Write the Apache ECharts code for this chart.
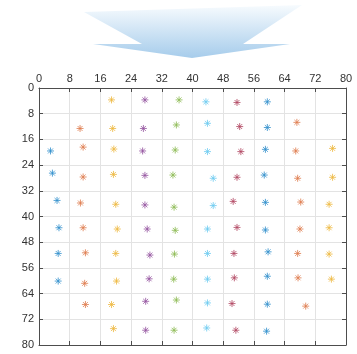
<!DOCTYPE html>
<html>
<head>
<meta charset="utf-8">
<style>
  html, body { margin: 0; padding: 0; background: #ffffff; }
  #chart { width: 357px; height: 354px; }
</style>
<script src="https://cdn.jsdelivr.net/npm/echarts@6/dist/echarts.min.js"></script>
</head>
<body>
<div id="chart"></div>
<script>
// Axis ticks (x on top, y reversed downward)
const xTicks = [0, 8, 16, 24, 32, 40, 48, 56, 64, 72, 80];
const yTicks = [0, 8, 16, 24, 32, 40, 48, 56, 64, 72, 80];

// Point columns, [x, y]
const col1 = [[3.0, 19.6], [3.5, 26.5], [4.7, 35.0], [5.2, 43.5], [5.0, 51.5], [5.0, 60.1]];
const col2 = [[10.7, 12.6], [11.5, 18.4], [11.5, 27.7], [10.8, 35.8], [11.5, 43.5], [12.1, 51.3], [11.9, 60.8], [12.1, 67.4]];
const col3 = [[18.9, 3.7], [19.2, 12.6], [19.5, 19.0], [19.4, 26.9], [20.0, 36.2], [20.4, 43.9], [20.0, 51.5], [20.2, 60.1], [18.9, 67.4], [19.4, 74.9]];
const col4 = [[27.6, 3.7], [27.2, 12.6], [27.0, 19.6], [27.6, 27.2], [27.6, 36.4], [28.2, 43.9], [28.9, 52.0], [28.7, 59.4], [27.8, 66.4], [27.8, 75.4]];
const col5 = [[36.5, 3.7], [35.8, 11.5], [35.5, 19.3], [34.9, 27.1], [35.2, 37.1], [35.5, 44.3], [35.3, 51.7], [35.1, 59.5], [35.8, 66.0], [35.2, 75.4]];
const col6 = [[43.5, 4.3], [43.9, 11.0], [43.9, 19.8], [45.4, 28.1], [45.4, 36.6], [43.9, 43.9], [43.9, 51.5], [43.9, 59.5], [43.9, 66.9], [43.7, 74.7]];
const col7 = [[51.6, 4.5], [52.3, 12.0], [52.6, 19.8], [51.6, 27.8], [50.6, 35.3], [51.6, 43.4], [50.8, 51.5], [50.9, 59.1], [50.3, 67.1], [51.3, 75.4]];
const col8 = [[59.5, 4.3], [59.5, 12.3], [59.0, 19.1], [58.7, 27.1], [59.0, 35.6], [59.0, 44.2], [59.7, 51.0], [59.5, 58.6], [59.5, 67.3], [59.3, 75.7]];
const col9 = [[67.2, 10.7], [66.9, 19.6], [67.4, 28.1], [68.2, 35.5], [68.0, 43.9], [67.4, 51.5], [67.5, 59.1], [69.5, 67.9]];
const col10 = [[76.5, 18.8], [76.5, 27.8], [75.6, 36.2], [75.6, 43.5], [75.6, 51.7], [76.2, 59.5]];

const columns = [col1, col2, col3, col4, col5, col6, col7, col8, col9, col10];
const colors = ['#2f8fcc', '#df7a4c', '#edb83e', '#94529f', '#8cba52', '#6ccaf0', '#b04560', '#2f8fcc', '#df7a4c', '#edb83e'];

// Asterisk marker: plus and cross strokes
const asterisk = 'path://M5,0L5,10M0,5L10,5M1.5,1.5L8.5,8.5M1.5,8.5L8.5,1.5';

const axisColor = '#4d4d4d';
const gridColor = '#e3e3e3';
const labelStyle = { color: '#333333', fontSize: 11, fontFamily: 'Liberation Sans, Arial, sans-serif' };

const chart = echarts.init(document.getElementById('chart'), null, { renderer: 'canvas' });

const series = columns.map((pts, i) => ({
  type: 'scatter',
  xAxisIndex: 0,
  yAxisIndex: 0,
  data: pts,
  symbol: asterisk,
  symbolSize: 7,
  itemStyle: { color: 'none', borderColor: colors[i], borderWidth: 1 },
  emphasis: { disabled: true },
  silent: true
}));

chart.setOption({
  animation: false,
  backgroundColor: '#ffffff',
  grid: { left: 39, top: 88, width: 307, height: 257, containLabel: false },
  graphic: [{
    type: 'polygon',
    silent: true,
    shape: {
      points: [[84, 12], [142, 44], [93, 44], [192, 58], [290, 44], [243, 44], [302, 5]]
    },
    style: {
      fill: new echarts.graphic.LinearGradient(0, 0, 0, 1, [
        { offset: 0, color: '#f7fbfe' },
        { offset: 1, color: '#a6cceb' }
      ])
    }
  }],
  xAxis: [{
    type: 'value', position: 'top', min: xTicks[0], max: xTicks[xTicks.length - 1], interval: 8,
    axisLine: { show: true, onZero: false, lineStyle: { color: axisColor, width: 1 } },
    axisTick: { show: true, inside: true, length: 4, lineStyle: { color: axisColor } },
    axisLabel: Object.assign({ margin: 4 }, labelStyle),
    splitLine: { show: true, lineStyle: { color: gridColor, width: 1 } }
  }, {
    type: 'value', position: 'bottom', min: xTicks[0], max: xTicks[xTicks.length - 1], interval: 8,
    axisLine: { show: true, onZero: false, lineStyle: { color: axisColor, width: 1 } },
    axisTick: { show: true, inside: true, length: 4, lineStyle: { color: axisColor } },
    axisLabel: { show: false },
    splitLine: { show: false }
  }],
  yAxis: [{
    type: 'value', inverse: true, position: 'left', min: yTicks[0], max: yTicks[yTicks.length - 1], interval: 8,
    axisLine: { show: true, onZero: false, lineStyle: { color: axisColor, width: 1 } },
    axisTick: { show: true, inside: true, length: 4, lineStyle: { color: axisColor } },
    axisLabel: Object.assign({ margin: 5 }, labelStyle),
    splitLine: { show: true, lineStyle: { color: gridColor, width: 1 } }
  }, {
    type: 'value', inverse: true, position: 'right', min: yTicks[0], max: yTicks[yTicks.length - 1], interval: 8,
    axisLine: { show: true, onZero: false, lineStyle: { color: axisColor, width: 1 } },
    axisTick: { show: true, inside: true, length: 4, lineStyle: { color: axisColor } },
    axisLabel: { show: false },
    splitLine: { show: false }
  }],
  series: series
});
</script>
</body>
</html>
